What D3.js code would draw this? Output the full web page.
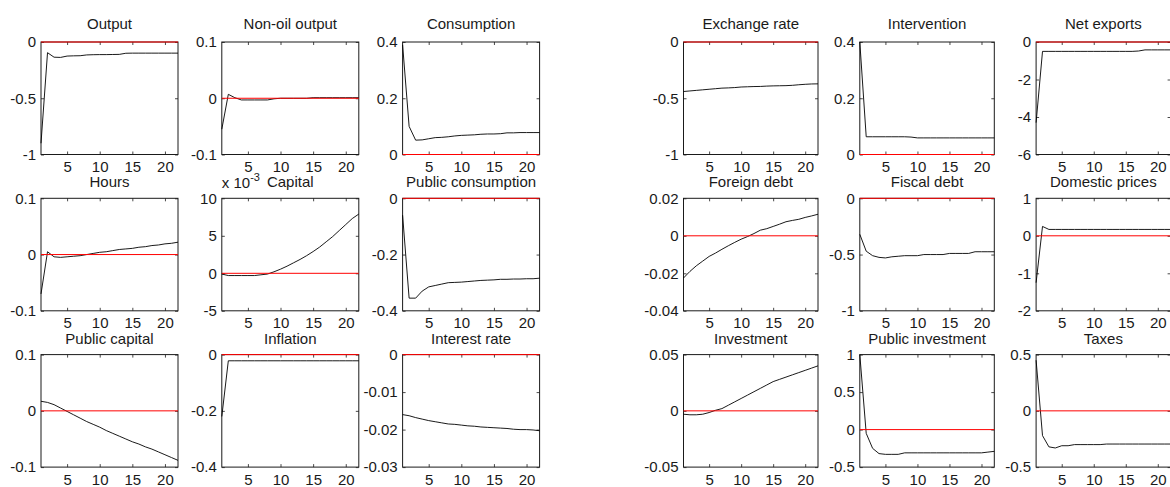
<!DOCTYPE html>
<html>
<head>
<meta charset="utf-8">
<script src="https://cdn.jsdelivr.net/npm/d3@7"></script>
<style>
  body { margin: 0; background: #fff; }
  svg { display: block; }
  text { font-family: "Liberation Sans", Arial, Helvetica, sans-serif; fill: #1a1a1a; }
</style>
</head>
<body>
<svg id="chart"></svg>
<script>
// horizon of the impulse responses
const periods = d3.range(1, 23);
const xTicks = [5, 10, 15, 20];

// series (one value per period 1..22)
const output = [-0.9, -0.095, -0.135, -0.137, -0.125, -0.123, -0.122, -0.115, -0.113, -0.112, -0.112, -0.111, -0.11, -0.1, -0.099, -0.099, -0.099, -0.099, -0.099, -0.099, -0.099, -0.099];
const nonOilOutput = [-0.055, 0.007, 0.001, -0.003, -0.003, -0.003, -0.003, -0.003, -0.001, 0.0, 0.0, 0.0, 0.0, 0.0, 0.001, 0.001, 0.001, 0.001, 0.001, 0.001, 0.001, 0.001];
const consumption = [0.39, 0.1, 0.051, 0.052, 0.056, 0.06, 0.061, 0.063, 0.066, 0.068, 0.069, 0.07, 0.072, 0.073, 0.073, 0.074, 0.077, 0.077, 0.078, 0.078, 0.078, 0.078];
const hours = [-0.07, 0.005, -0.004, -0.005, -0.004, -0.003, -0.002, 0.0, 0.002, 0.004, 0.005, 0.007, 0.009, 0.01, 0.011, 0.013, 0.014, 0.016, 0.017, 0.019, 0.02, 0.022];
// capital is in units of 10^-3
const capital = [-0.1, -0.3, -0.3, -0.3, -0.3, -0.3, -0.2, -0.1, 0.2, 0.55, 0.95, 1.4, 1.85, 2.35, 2.9, 3.5, 4.2, 4.9, 5.7, 6.5, 7.3, 7.9];
const publicConsumption = [-0.06, -0.355, -0.355, -0.33, -0.315, -0.31, -0.305, -0.3, -0.299, -0.298, -0.296, -0.294, -0.292, -0.291, -0.29, -0.288, -0.288, -0.287, -0.287, -0.286, -0.286, -0.284];
const publicCapital = [0.017, 0.015, 0.011, 0.005, -0.001, -0.007, -0.013, -0.019, -0.024, -0.029, -0.035, -0.04, -0.045, -0.05, -0.055, -0.059, -0.064, -0.068, -0.073, -0.078, -0.083, -0.088];
const inflation = [-0.22, -0.022, -0.022, -0.022, -0.022, -0.022, -0.022, -0.022, -0.022, -0.022, -0.022, -0.022, -0.022, -0.022, -0.022, -0.022, -0.022, -0.022, -0.022, -0.022, -0.022, -0.022];
const interestRate = [-0.016, -0.0163, -0.0168, -0.0172, -0.0176, -0.0179, -0.0182, -0.0185, -0.0186, -0.0188, -0.019, -0.0191, -0.0193, -0.0194, -0.0195, -0.0196, -0.0197, -0.0199, -0.02, -0.02, -0.0201, -0.0203];
const exchangeRate = [-0.44, -0.435, -0.43, -0.425, -0.42, -0.415, -0.41, -0.408, -0.405, -0.4, -0.398, -0.396, -0.395, -0.392, -0.39, -0.389, -0.388, -0.385, -0.38, -0.376, -0.373, -0.372];
const intervention = [0.4, 0.063, 0.063, 0.063, 0.063, 0.063, 0.063, 0.063, 0.062, 0.059, 0.059, 0.059, 0.059, 0.059, 0.059, 0.059, 0.059, 0.059, 0.059, 0.059, 0.059, 0.059];
const netExports = [-4.3, -0.5, -0.5, -0.5, -0.5, -0.5, -0.5, -0.5, -0.5, -0.5, -0.5, -0.5, -0.5, -0.5, -0.5, -0.5, -0.48, -0.42, -0.42, -0.42, -0.42, -0.42];
const foreignDebt = [-0.0225, -0.019, -0.016, -0.0135, -0.011, -0.0092, -0.0072, -0.0053, -0.0035, -0.0018, -0.0004, 0.0012, 0.003, 0.0038, 0.005, 0.0062, 0.0075, 0.0082, 0.0088, 0.0098, 0.0106, 0.0115];
const fiscalDebt = [-0.32, -0.47, -0.51, -0.525, -0.53, -0.52, -0.515, -0.51, -0.51, -0.51, -0.5, -0.5, -0.5, -0.5, -0.49, -0.49, -0.49, -0.49, -0.475, -0.475, -0.475, -0.475];
const domesticPrices = [-1.25, 0.25, 0.17, 0.17, 0.17, 0.17, 0.17, 0.17, 0.17, 0.17, 0.17, 0.17, 0.17, 0.17, 0.17, 0.17, 0.17, 0.17, 0.17, 0.17, 0.17, 0.17];
const investment = [-0.003, -0.0035, -0.0035, -0.003, -0.0015, 0.0005, 0.002, 0.005, 0.008, 0.011, 0.014, 0.017, 0.02, 0.023, 0.026, 0.028, 0.03, 0.032, 0.034, 0.036, 0.038, 0.04];
const publicInvestment = [1.0, -0.05, -0.25, -0.32, -0.33, -0.33, -0.33, -0.31, -0.31, -0.31, -0.31, -0.31, -0.31, -0.31, -0.31, -0.31, -0.31, -0.31, -0.31, -0.31, -0.3, -0.29];
const taxes = [0.45, -0.22, -0.32, -0.33, -0.31, -0.31, -0.3, -0.3, -0.3, -0.3, -0.3, -0.295, -0.295, -0.295, -0.295, -0.295, -0.295, -0.295, -0.295, -0.295, -0.295, -0.295];

// panel titles, y ranges and y tick values
const titles = [
  "Output", "Non-oil output", "Consumption",
  "Hours", "Capital", "Public consumption",
  "Public capital", "Inflation", "Interest rate",
  "Exchange rate", "Intervention", "Net exports",
  "Foreign debt", "Fiscal debt", "Domestic prices",
  "Investment", "Public investment", "Taxes"
];
const series = [
  output, nonOilOutput, consumption,
  hours, capital, publicConsumption,
  publicCapital, inflation, interestRate,
  exchangeRate, intervention, netExports,
  foreignDebt, fiscalDebt, domesticPrices,
  investment, publicInvestment, taxes
];
const yDomains = [
  [-1, 0], [-0.1, 0.1], [0, 0.4],
  [-0.1, 0.1], [-5, 10], [-0.4, 0],
  [-0.1, 0.1], [-0.4, 0], [-0.03, 0],
  [-1, 0], [0, 0.4], [-6, 0],
  [-0.04, 0.02], [-1, 0], [-2, 1],
  [-0.05, 0.05], [-0.5, 1], [-0.5, 0.5]
];
const yTicks = [
  [-1, -0.5, 0], [-0.1, 0, 0.1], [0, 0.2, 0.4],
  [-0.1, 0, 0.1], [-5, 0, 5, 10], [-0.4, -0.2, 0],
  [-0.1, 0, 0.1], [-0.4, -0.2, 0], [-0.03, -0.02, -0.01, 0],
  [-1, -0.5, 0], [0, 0.2, 0.4], [-6, -4, -2, 0],
  [-0.04, -0.02, 0, 0.02], [-1, -0.5, 0], [-2, -1, 0, 1],
  [-0.05, 0, 0.05], [-0.5, 0, 0.5, 1], [-0.5, 0, 0.5]
];

const width = 1170, height = 487;
const fontSize = 15;

// two 3x3 subplot grids
const groups = [
  { left: 41, colStep: 180.8, w: 137 },
  { left: 683.5, colStep: 176.3, w: 134.5 }
];
const rowTop = 42, rowStep = 156.3, h = 112.5;

const svg = d3.select("#chart")
  .attr("width", width)
  .attr("height", height);

const fmt = d => String(+d.toFixed(4));

titles.forEach((title, i) => {
  const grp = groups[Math.floor(i / 9)];
  const k = i % 9;
  const row = Math.floor(k / 3), col = k % 3;
  const x0 = grp.left + col * grp.colStep;
  const y0 = rowTop + row * rowStep;
  const w = grp.w;

  const x = d3.scaleLinear().domain([1, 22]).range([0, w]);
  const y = d3.scaleLinear().domain(yDomains[i]).range([h, 0]);

  const g = svg.append("g").attr("transform", `translate(${x0},${y0})`);

  const styleAxis = a => {
    a.select(".domain").remove();
    a.selectAll(".tick line").attr("stroke", "#1a1a1a").attr("stroke-width", 0.8);
    a.selectAll(".tick text")
      .attr("fill", "#1a1a1a")
      .style("font-size", fontSize + "px")
      .style("font-family", '"Liberation Sans", Arial, sans-serif');
  };

  // ticks point inward, MATLAB style, on all four sides
  g.append("g").attr("transform", `translate(0,${h})`)
    .call(d3.axisBottom(x).tickValues(xTicks).tickSize(-3).tickPadding(7).tickFormat(fmt))
    .call(styleAxis);
  g.append("g")
    .call(d3.axisTop(x).tickValues(xTicks).tickSize(-3).tickFormat(""))
    .call(styleAxis);
  g.append("g")
    .call(d3.axisLeft(y).tickValues(yTicks[i]).tickSize(-3).tickPadding(5).tickFormat(fmt))
    .call(styleAxis);
  g.append("g").attr("transform", `translate(${w},0)`)
    .call(d3.axisRight(y).tickValues(yTicks[i]).tickSize(-3).tickFormat(""))
    .call(styleAxis);

  // frame
  g.append("rect")
    .attr("width", w).attr("height", h)
    .attr("fill", "none")
    .attr("stroke", "#1a1a1a")
    .attr("stroke-width", 1);

  // the response
  const line = d3.line()
    .x((d, j) => x(periods[j]))
    .y(d => y(d));
  g.append("path")
    .datum(series[i])
    .attr("fill", "none")
    .attr("stroke", "#000")
    .attr("stroke-width", 0.9)
    .attr("d", line);

  // zero line
  g.append("line")
    .attr("x1", x(1)).attr("x2", x(22))
    .attr("y1", y(0)).attr("y2", y(0))
    .attr("stroke", "#ff0000")
    .attr("stroke-width", 1);

  g.append("text")
    .attr("x", w / 2)
    .attr("y", row === 0 ? -13 : -11)
    .attr("text-anchor", "middle")
    .style("font-size", fontSize + "px")
    .text(title);

  if (title === "Capital") {
    const ex = g.append("text")
      .attr("x", 0)
      .attr("y", -10)
      .style("font-size", fontSize + "px");
    ex.append("tspan").text("x 10");
    ex.append("tspan").attr("dy", -7).style("font-size", "11px").text("-3");
  }
});
</script>
</body>
</html>
